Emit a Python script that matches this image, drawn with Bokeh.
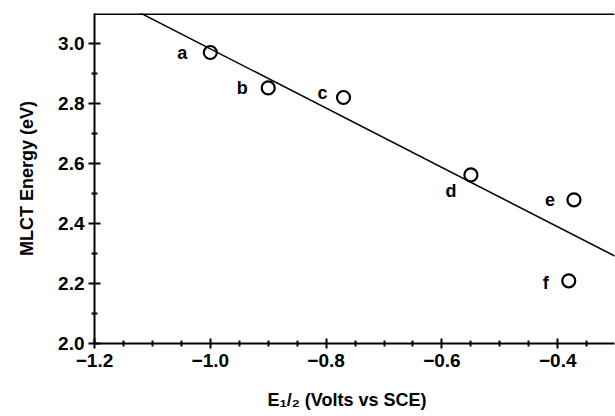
from bokeh.plotting import figure
from bokeh.models import (Range1d, FixedTicker, PrintfTickFormatter,
                          CustomJSTickFormatter, Span, ColumnDataSource)
from bokeh.core.properties import value
from bokeh.embed import file_html
from bokeh.resources import INLINE

# ---- data ----
point_names = ["a", "b", "c", "d", "e", "f"]
e_half = [-1.00, -0.90, -0.77, -0.55, -0.372, -0.381]
mlct_energy = [2.97, 2.852, 2.82, 2.562, 2.479, 2.209]
fit_x = [-1.2, -0.30]
fit_y = [3.18, 2.29]
x_tick_values = [-1.2, -1.0, -0.8, -0.6, -0.4]
x_tick_labels = ["\u22121.2", "\u22121.0", "\u22120.8", "\u22120.6", "\u22120.4"]
x_minor_ticks = [-1.15, -1.1, -1.05, -0.95, -0.9, -0.85, -0.75, -0.7, -0.65,
                 -0.55, -0.5, -0.45, -0.35]
y_tick_values = [2.0, 2.2, 2.4, 2.6, 2.8, 3.0]
y_minor_ticks = [2.1, 2.3, 2.5, 2.7, 2.9]
x_title = "E\u2081/\u2082  (Volts  vs  SCE)"
y_title = "MLCT Energy (eV)"

# label offsets (screen px) for point letters
label_dx = [-28, -26, -21, -20, -24, -23]
label_dy = [0, 0, -5, 16, 0, 2]

FONT = "Liberation Sans"

p = figure(width=615, height=416, output_backend="svg", toolbar_location=None,
           x_range=Range1d(-1.2, -0.302), y_range=Range1d(2.0, 3.1),
           min_border_left=94, min_border_right=1, min_border_top=13,
           min_border_bottom=73)
p.grid.visible = False
p.outline_line_color = None
p.background_fill_color = "white"
p.border_fill_color = "white"

for ax in (p.xaxis[0], p.yaxis[0]):
    ax.axis_line_width = 2
    ax.major_tick_line_width = 2
    ax.minor_tick_line_width = 2
    ax.major_tick_in = 6
    ax.major_tick_out = 6
    ax.minor_tick_in = 3
    ax.minor_tick_out = 3
    ax.major_label_text_font = FONT
    ax.major_label_text_font_style = "bold"
    ax.major_label_text_font_size = "19px"
    ax.major_label_text_color = "black"
    ax.axis_label_text_font = FONT
    ax.axis_label_text_font_style = "bold"
    ax.axis_label_text_font_size = "18px"
    ax.axis_label_text_color = "black"

p.xaxis.ticker = FixedTicker(ticks=x_tick_values, minor_ticks=x_minor_ticks)
p.xaxis.formatter = CustomJSTickFormatter(
    args=dict(vals=x_tick_values, labels=x_tick_labels),
    code="""
    for (let i = 0; i < vals.length; i++) {
        if (Math.abs(vals[i] - tick) < 1e-6) return labels[i];
    }
    return tick.toFixed(1).replace('-', '\\u2212');
""")
p.xaxis.major_tick_in = 5
p.xaxis.major_tick_out = 5
p.xaxis.major_label_standoff = 5
p.xaxis.axis_label = x_title
p.xaxis.axis_label_standoff = 20

p.yaxis.ticker = FixedTicker(ticks=y_tick_values, minor_ticks=y_minor_ticks)
p.yaxis.formatter = PrintfTickFormatter(format="%.1f")
p.yaxis.major_label_standoff = 4
p.yaxis.axis_label = y_title
p.yaxis.axis_label_standoff = 18

# top frame line
p.add_layout(Span(location=3.1, dimension="width", line_color="black", line_width=3))

# fit line
p.line(fit_x, fit_y, line_color="black", line_width=1.5)

src = ColumnDataSource(dict(x=e_half, y=mlct_energy, name=point_names,
                            dx=label_dx, dy=label_dy))
p.scatter("x", "y", source=src, size=13, fill_color=None, line_color="black",
          line_width=2.2)
p.text("x", "y", text="name", source=src, x_offset="dx", y_offset="dy",
       text_align="center", text_baseline="middle", text_font=value(FONT),
       text_font_style="bold", text_font_size="18px", text_color="black")

open("out.html", "w").write(file_html(p, INLINE))
